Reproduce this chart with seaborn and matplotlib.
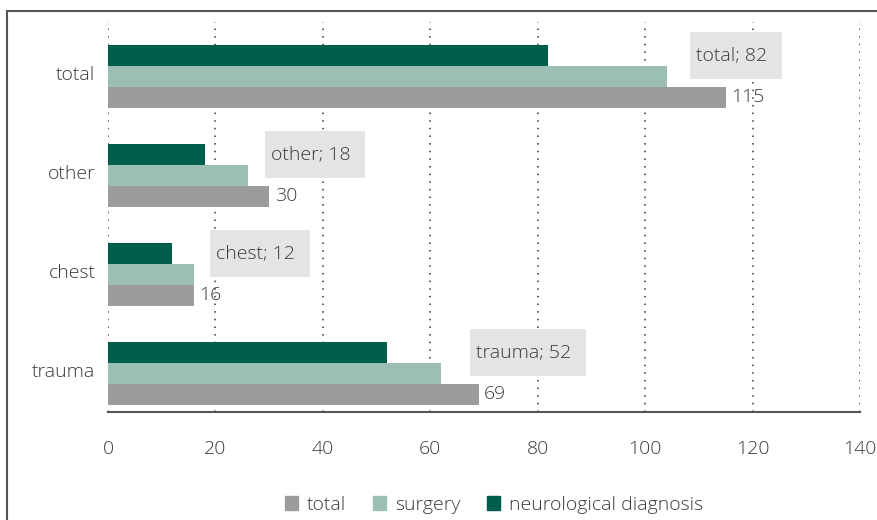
import numpy as np
import pandas as pd
import matplotlib
matplotlib.use("Agg")
import matplotlib.pyplot as plt
import seaborn as sns
from matplotlib.patches import Rectangle, Patch
from matplotlib.path import Path
from matplotlib.transforms import ScaledTranslation

# data
categories = ["total", "other", "chest", "trauma"]
total_vals = [115, 30, 16, 69]
surgery_vals = [104, 26, 16, 62]
neuro_vals = [82, 18, 12, 52]
series_names = ["total", "surgery", "neurological diagnosis"]
xticks = [0, 20, 40, 60, 80, 100, 120, 140]

# where the grey callout texts sit (x centre, data units)
label_x = [116.1, 37.7, 27.5, 77.4]

colors = {"total": "#9c9c9d", "surgery": "#9bbfb5", "neurological diagnosis": "#005e4d"}
txt = "#3a3a3a"
fs = 14

df = pd.DataFrame({
    "category": categories * 3,
    "series": ["neurological diagnosis"] * 4 + ["surgery"] * 4 + ["total"] * 4,
    "value": neuro_vals + surgery_vals + total_vals,
})


def callout_box(x0, y0, width, height, mutation_size):
    # excel-like label box: a bit more room on the right and top/bottom
    l, r, v = 0.3 * mutation_size, 0.75 * mutation_size, 0.74 * mutation_size
    x1, x2 = x0 - l, x0 + width + r
    y1, y2 = y0 - v, y0 + height + v
    return Path([(x1, y1), (x2, y1), (x2, y2), (x1, y2), (x1, y1)], closed=True)


sns.set_style("white")
plt.rcParams["font.family"] = ["Open Sans", "DejaVu Sans"]
plt.rcParams["font.weight"] = "light"

fig = plt.figure(figsize=(8.78, 5.2), dpi=100)
ax = fig.add_axes([108 / 878, 1 - 412 / 520, (860 - 108) / 878, (412 - 22) / 520])

sns.barplot(data=df, x="value", y="category", hue="series", order=categories,
            hue_order=["neurological diagnosis", "surgery", "total"],
            palette=colors, width=0.636, orient="h", legend=False, ax=ax,
            saturation=1, linewidth=0)

ax.set_xlim(0, 140)
ax.set_ylim(3.39, -0.55)
ax.set_xticks(xticks)
ax.set_xlabel("")
ax.set_ylabel("")
ax.tick_params(axis="x", length=0, pad=20, labelsize=fs, colors=txt)
ax.tick_params(axis="y", length=0, pad=9, labelsize=fs, colors=txt)
# category names sit a touch above the group centre
for lab in ax.get_yticklabels():
    lab.set_transform(lab.get_transform() + ScaledTranslation(0, 3 / 100, fig.dpi_scale_trans))
ax.xaxis.grid(True, linestyle=(0, (1, 4)), color="#333333", linewidth=1.1)
ax.set_axisbelow(True)
for s in ["top", "right", "left"]:
    ax.spines[s].set_visible(False)
ax.spines["bottom"].set_color("#555555")
ax.spines["bottom"].set_linewidth(1.5)

# value labels on the total bars
off = 0.212
for i, v in enumerate(total_vals):
    ax.annotate(str(v), (v, i + off), xytext=(4, 0), textcoords="offset points",
                va="center", ha="left", fontsize=fs, color=txt)

# callout boxes for neurological diagnosis
for i, (c, v) in enumerate(zip(categories, neuro_vals)):
    ax.text(label_x[i], i - off, f"{c}; {v}", ha="center", va="center",
            fontsize=fs, color=txt, zorder=5,
            bbox=dict(boxstyle=callout_box, fc="#e3e4e6", ec="none"))

handles = [Patch(color=colors[n]) for n in series_names]
fig.legend(handles, series_names, loc="center", bbox_to_anchor=(494 / 878, 1 - 505 / 520),
           ncol=3, frameon=False, fontsize=fs, handlelength=0.7, handleheight=0.7,
           handletextpad=0.45, columnspacing=1.35, labelcolor=txt)

# frame of the original figure (top and left edge)
fig.add_artist(Rectangle((7 / 878, -0.1), 1.2, 1 - 11 / 520 + 0.1,
                         transform=fig.transFigure, fill=False,
                         edgecolor="#555555", linewidth=1.5))

fig.savefig("out.png", dpi=100)
